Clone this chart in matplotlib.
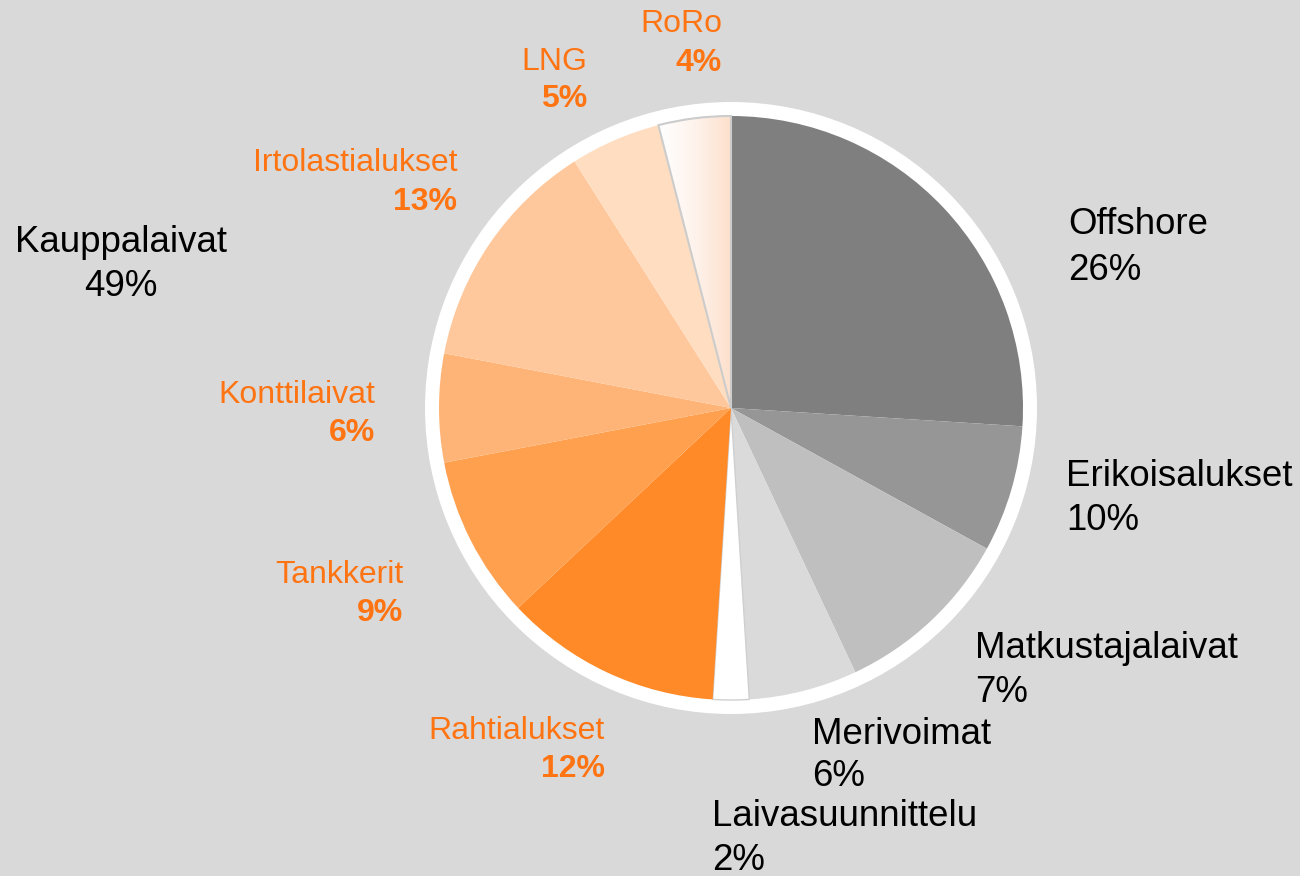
import matplotlib
matplotlib.use("Agg")
import matplotlib.pyplot as plt
import numpy as np
from matplotlib.patches import Circle
from matplotlib.colors import LinearSegmentedColormap

plt.rcParams['font.family'] = ['Liberation Sans', 'DejaVu Sans']

# ---- data ----
categories = ['Offshore', 'Erikoisalukset', 'Matkustajalaivat', 'Merivoimat',
              'Laivasuunnittelu', 'Rahtialukset', 'Tankkerit', 'Konttilaivat',
              'Irtolastialukset', 'LNG', 'RoRo']
# slice sizes as drawn (clockwise from top)
shares = [26, 7, 10, 6, 2, 12, 9, 6, 13, 5, 4]
# percentages printed in the labels
label_pcts = [26, 10, 7, 6, 2, 12, 9, 6, 13, 5, 4]
group_name = 'Kauppalaivat'
group_pct = 49

colors = ['#7f7f7f', '#969696', '#bfbfbf', '#dadada', '#ffffff',
          '#ff8a27', '#ffa04f', '#ffb477', '#ffc89c', '#ffddc0', '#fff4ec']
orange_txt = '#ff7412'

W, H = 1300, 876
fig = plt.figure(figsize=(13, 8.76), dpi=100, facecolor='#d9d9d9')
ax = fig.add_axes([0, 0, 1, 1])
ax.set_facecolor('#d9d9d9')

cx, cy = 731, H - 408
R = 292

ax.add_patch(Circle((cx, cy), 306, facecolor='white', edgecolor='none', zorder=0))

wedges, _ = ax.pie(shares, startangle=90, counterclock=False, center=(cx, cy),
                   radius=R, colors=colors,
                   wedgeprops=dict(linewidth=0, edgecolor='none'))
for w in wedges:
    w.set_zorder(1)

# white slice edge
wedges[4].set_edgecolor('#cfcfcf')
wedges[4].set_linewidth(1.0)

# RoRo gradient fill
ro = wedges[10]
ro.set_facecolor('none')
ro.set_edgecolor('#cccccc')
ro.set_linewidth(1.5)
ro.set_zorder(3)
grad = np.linspace(0, 1, 256)[None, :]
cmap = LinearSegmentedColormap.from_list('g', ['#ffffff', '#fef3ec', '#fde0cc'])
im = ax.imshow(np.repeat(grad, 2, axis=0), cmap=cmap, aspect='auto',
               extent=(cx - 72, cx, cy, cy + R + 2), origin='lower', zorder=2,
               interpolation='bilinear')
im.set_clip_path(ro)

# ---- labels ----
black_fs = 26.4
orange_fs = 23.0

def Y(y):
    return H - y

black_pos = {
    0: (1068, 225, 270),
    1: (1066, 477, 521),
    2: (975, 648, 692),
    3: (812, 734, 777),
    4: (712, 816, 860),
}
for i, (x, y1, y2) in black_pos.items():
    ax.text(x, Y(y1), categories[i], fontsize=black_fs, color='black', ha='left', va='center')
    ax.text(x, Y(y2), f'{label_pcts[i]}%', fontsize=black_fs, color='black', ha='left', va='center')

orange_pos = {
    5: (605, 731, 769),
    6: (403, 575, 613),
    7: (375, 395, 433),
    8: (457, 163, 202),
    9: (587, 62, 99),
    10: (722, 24, 63),
}
for i, (x, y1, y2) in orange_pos.items():
    ax.text(x, Y(y1), categories[i], fontsize=orange_fs, color=orange_txt, ha='right', va='center')
    ax.text(x, Y(y2), f'{label_pcts[i]}%', fontsize=orange_fs, color=orange_txt, ha='right',
            va='center', fontweight='bold')

ax.text(121, Y(243), group_name, fontsize=black_fs, color='black', ha='center', va='center')
ax.text(121, Y(286), f'{group_pct}%', fontsize=black_fs, color='black', ha='center', va='center')

ax.set_xlim(0, W)
ax.set_ylim(0, H)
ax.set_aspect('equal')
ax.axis('off')

fig.savefig('out.png', dpi=100, facecolor='#d9d9d9')
